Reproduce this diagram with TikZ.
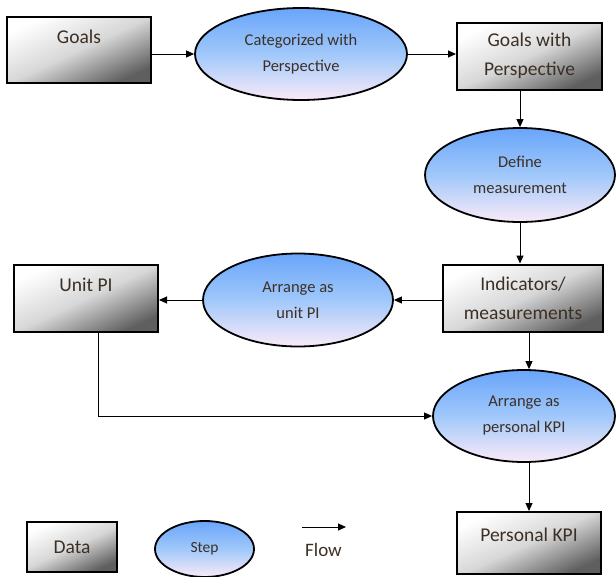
\documentclass[tikz,border=0pt]{standalone}
\usepackage{fontspec}
\setmainfont{Carlito}
\usetikzlibrary{arrows.meta,shapes.geometric,calc}
\definecolor{TxtClr}{RGB}{60,48,38}
\definecolor{BoxMidClr}{RGB}{215,215,215}
\definecolor{BoxDarkClr}{RGB}{95,95,95}
\definecolor{StepTopClr}{RGB}{105,165,250}
\definecolor{StepMidClr}{RGB}{160,200,250}
\definecolor{StepBotClr}{RGB}{250,234,248}

\tikzset{
  databox/.style={rectangle,draw=black,line width=2pt,inner sep=0pt,
    top color=white,bottom color=BoxDarkClr,middle color=BoxMidClr,shading angle=25,
    text=TxtClr,align=center,font=\fontsize{19.5}{29}\selectfont},
  stepnode/.style={ellipse,draw=black,line width=1.8pt,inner sep=0pt,
    top color=StepTopClr,bottom color=StepBotClr,middle color=StepMidClr,
    text=TxtClr,align=center,font=\fontsize{16.5}{26}\selectfont},
  flowline/.style={line width=1pt,-{Triangle[length=8pt,width=7pt]}}
}

\begin{document}
\begin{tikzpicture}[x=1pt,y=-1pt]
\useasboundingbox (0,0) rectangle (616,576);

\node[databox,minimum width=144pt,minimum height=66pt,text depth=26pt] (goals) at (79,50) {Goals};
\node[stepnode,minimum width=212pt,minimum height=92pt] (cat) at (301,54) {Categorized with\\Perspective};
\node[databox,minimum width=145pt,minimum height=67pt] (gwp) at (529.5,56) {Goals with\\Perspective};
\node[stepnode,minimum width=190pt,minimum height=94pt] (define) at (520,175) {Define\\measurement};
\node[databox,minimum width=160pt,minimum height=67pt] (ind) at (523,298) {Indicators/\\measurements};
\node[stepnode,minimum width=190pt,minimum height=93pt] (unitstep) at (298,300) {Arrange as\\unit PI};
\node[databox,minimum width=144pt,minimum height=67pt,text depth=28pt] (unitpi) at (86,298.5) {Unit PI};
\node[stepnode,minimum width=182pt,minimum height=92pt] (kpistep) at (524,416) {Arrange as\\personal KPI};
\node[databox,minimum width=144pt,minimum height=62pt,text depth=16pt] (kpibox) at (529,543) {Personal KPI};

\node[databox,minimum width=90pt,minimum height=50pt] (data) at (72,547) {Data};
\node[stepnode,minimum width=99pt,minimum height=56pt,font=\fontsize{15.5}{16}\selectfont] (stepleg) at (204.5,549) {Step};
\coordinate (flowa) at (302,527);
\coordinate (flowb) at (346,527);
\node[text=TxtClr,font=\fontsize{19}{20}\selectfont] (flowtxt) at (323.5,550) {Flow};

\draw[flowline] (goals.east |- cat.west) -- (cat.west);
\draw[flowline] (cat.east) -- (cat.east -| gwp.west);
\draw[flowline] (define.north |- gwp.south) -- (define.north);
\draw[flowline] (define.south) -- (define.south |- ind.north);
\draw[flowline] (unitstep.east -| ind.west) -- (unitstep.east);
\draw[flowline] (unitstep.west) -- (unitstep.west -| unitpi.east);
\draw[flowline] (ind.south -| kpibox.north) -- (kpistep.north -| kpibox.north);
\draw[flowline] ([xshift=12pt]unitpi.south) |- (kpistep.west);
\draw[flowline] (kpistep.south -| kpibox.north) -- (kpibox.north);
\draw[flowline] (flowa) -- (flowb);

\end{tikzpicture}
\end{document}
